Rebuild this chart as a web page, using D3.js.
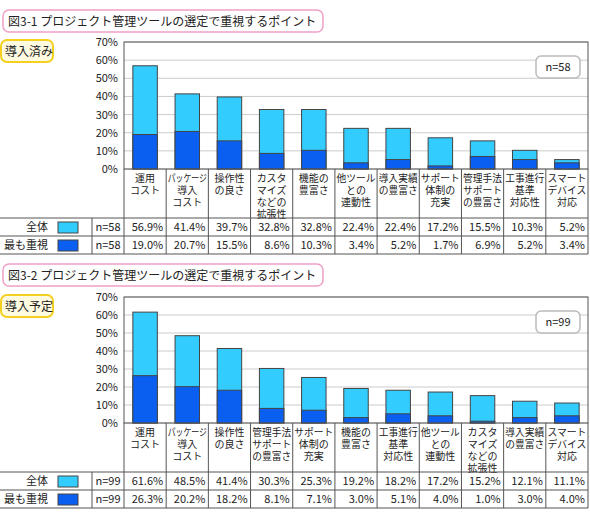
<!DOCTYPE html>
<html><head><meta charset="utf-8">
<script src="https://cdn.jsdelivr.net/npm/d3@7"></script>
<style>body{margin:0;background:#fff}text{font-family:"Noto Sans CJK JP",sans-serif;fill:#222}</style>
</head><body><div id="root"></div>
<script>
const cats1 = ["運用\nコスト","パッケージ\n導入\nコスト","操作性\nの良さ","カスタ\nマイズ\nなどの\n拡張性","機能の\n豊富さ","他ツール\nとの\n連動性","導入実績\nの豊富さ","サポート\n体制の\n充実","管理手法\nサポート\nの豊富さ","工事進行\n基準\n対応性","スマート\nデバイス\n対応"];
const all1 = [56.9,41.4,39.7,32.8,32.8,22.4,22.4,17.2,15.5,10.3,5.2];
const top1 = [19.0,20.7,15.5,8.6,10.3,3.4,5.2,1.7,6.9,5.2,3.4];
const cats2 = ["運用\nコスト","パッケージ\n導入\nコスト","操作性\nの良さ","管理手法\nサポート\nの豊富さ","サポート\n体制の\n充実","機能の\n豊富さ","工事進行\n基準\n対応性","他ツール\nとの\n連動性","カスタ\nマイズ\nなどの\n拡張性","導入実績\nの豊富さ","スマート\nデバイス\n対応"];
const all2 = [61.6,48.5,41.4,30.3,25.3,19.2,18.2,17.2,15.2,12.1,11.1];
const top2 = [26.3,20.2,18.2,8.1,7.1,3.0,5.1,4.0,1.0,3.0,4.0];
const yTicks = [0,10,20,30,40,50,60,70];
const LIGHT = "#33ccff", DARK = "#0a5ff0";

const svg = d3.select("#root").append("svg").attr("width",590).attr("height",519);

function panel(o){
  const g = svg.append("g");
  const x0 = 124, x1 = 588;
  // title
  g.append("rect").attr("x",3).attr("y",o.titleY).attr("width",320).attr("height",22).attr("rx",6)
    .attr("fill","#fff").attr("stroke","#f0a0c8").attr("stroke-width",1.5);
  g.append("text").attr("x",8).attr("y",o.titleY+16).attr("font-size",12).text(o.title);
  // badge
  g.append("rect").attr("x",1).attr("y",o.top-2).attr("width",52).attr("height",22).attr("rx",6)
    .attr("fill","#fffbe0").attr("stroke","#f5d020").attr("stroke-width",2);
  g.append("text").attr("x",5).attr("y",o.top+14).attr("font-size",12).text(o.badge);

  const y = d3.scaleLinear().domain([0,70]).range([o.base,o.top]);
  const x = d3.scaleBand().domain(d3.range(o.cats.length)).range([x0,x1]);
  g.selectAll(".grid").data(yTicks).join("line")
    .attr("x1",x0).attr("x2",x1).attr("y1",d=>y(d)).attr("y2",d=>y(d)).attr("stroke","#ccc");
  const ax = g.append("g").attr("transform",`translate(${x0},0)`)
    .call(d3.axisLeft(y).tickValues(yTicks).tickSize(0).tickPadding(6).tickFormat(d=>d+"%"));
  ax.select(".domain").remove();
  ax.selectAll("text").attr("font-size",11).style("font-family","'Noto Sans CJK JP',sans-serif");
  const bw = x.bandwidth()*0.58;
  const bx = i => x(i)+(x.bandwidth()-bw)/2;
  g.selectAll(".ba").data(o.all).join("rect").attr("x",(d,i)=>bx(i)).attr("width",bw)
    .attr("y",d=>y(d)).attr("height",d=>o.base-y(d)).attr("fill",LIGHT).attr("stroke","#444");
  g.selectAll(".bt").data(o.topv).join("rect").attr("x",(d,i)=>bx(i)).attr("width",bw)
    .attr("y",d=>y(d)).attr("height",d=>o.base-y(d)).attr("fill",DARK).attr("stroke","#444");
  g.append("rect").attr("x",x0).attr("y",o.top).attr("width",x1-x0).attr("height",o.base-o.top)
    .attr("fill","none").attr("stroke","#555");
  // n box
  g.append("rect").attr("x",536).attr("y",o.top+14).attr("width",44).attr("height",22).attr("rx",5)
    .attr("fill","#fff").attr("stroke","#bbb").attr("stroke-width",1.5);
  g.append("text").attr("x",558).attr("y",o.top+29).attr("text-anchor","middle").attr("font-size",11).text("n="+o.n);
  // category labels
  o.cats.forEach((c,i)=>{
    c.split("\n").forEach((ln,j)=>{
      const t = g.append("text").attr("x",x(i)+x.bandwidth()/2).attr("y",o.base+13+j*12)
        .attr("text-anchor","middle").attr("font-size",10).text(ln);
      if (ln.length >= 4) t.attr("textLength",39).attr("lengthAdjust","spacingAndGlyphs");
    });
  });
  const r1 = o.labBot, rh = 18, r3 = r1+2*rh;
  // table grid
  g.selectAll(".vl").data(d3.range(o.cats.length+1)).join("line")
    .attr("x1",i=>x0+i*x.bandwidth()).attr("x2",i=>x0+i*x.bandwidth())
    .attr("y1",o.base).attr("y2",r3).attr("stroke","#555");
  [r1,r1+rh,r3].forEach(yy=>g.append("line").attr("x1",0).attr("x2",x1).attr("y1",yy).attr("y2",yy).attr("stroke","#555"));
  g.append("line").attr("x1",92).attr("x2",92).attr("y1",r1).attr("y2",r3).attr("stroke","#555");
  [["全体",LIGHT,o.all],["最も重視",DARK,o.topv]].forEach(([lab,col,vals],k)=>{
    const yy = r1+k*rh;
    g.append("text").attr("x",48).attr("y",yy+13).attr("text-anchor","end").attr("font-size",11).text(lab);
    g.append("rect").attr("x",58).attr("y",yy+4).attr("width",20).attr("height",11).attr("fill",col).attr("stroke","#444");
    g.append("text").attr("x",108).attr("y",yy+13).attr("text-anchor","middle").attr("font-size",11).text("n="+o.n);
    vals.forEach((v,i)=>g.append("text").attr("x",x(i)+x.bandwidth()-3).attr("y",yy+13)
      .attr("text-anchor","end").attr("font-size",11).text(v.toFixed(1)+"%"));
  });
}

panel({title:"図3-1 プロジェクト管理ツールの選定で重視するポイント",badge:"導入済み",titleY:10,top:42,base:169,labBot:218,n:58,cats:cats1,all:all1,topv:top1});
panel({title:"図3-2 プロジェクト管理ツールの選定で重視するポイント",badge:"導入予定",titleY:264,top:297,base:423,labBot:472,n:99,cats:cats2,all:all2,topv:top2});
</script></body></html>
